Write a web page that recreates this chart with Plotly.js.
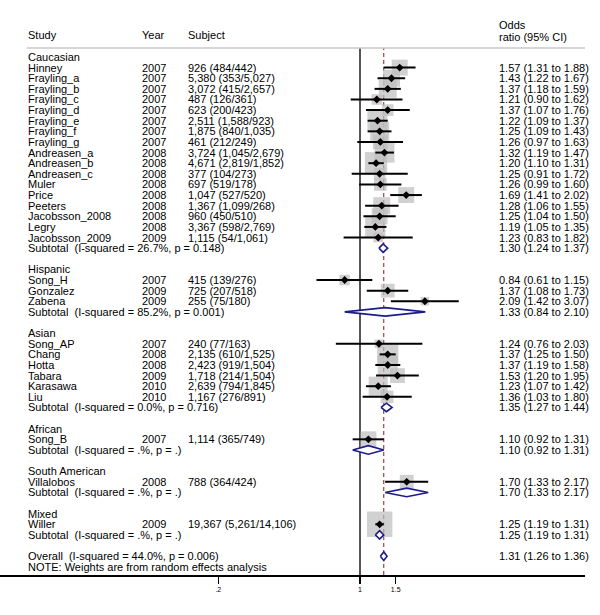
<!DOCTYPE html>
<html>
<head>
<meta charset="utf-8">
<script src="https://cdn.plot.ly/plotly-3.0.1.min.js"></script>
<style>body{margin:0;padding:0;background:#fff;} #chart{width:600px;height:615px;}</style>
</head>
<body>
<div id="chart"></div>
<script>
// ---------- DATA ----------
const studyNames = ["Hinney","Frayling_a","Frayling_b","Frayling_c","Frayling_d","Frayling_e","Frayling_f","Frayling_g","Andreasen_a","Andreasen_b","Andreasen_c","Muler","Price","Peeters","Jacobsson_2008","Legry","Jacobsson_2009",
  "Song_H","Gonzalez","Zabena",
  "Song_AP","Chang","Hotta","Tabara","Karasawa","Liu",
  "Song_B","Villalobos","Willer"];
const studyYears = ["2007","2007","2007","2007","2007","2007","2007","2007","2008","2008","2008","2008","2008","2008","2008","2008","2009",
  "2007","2009","2009",
  "2007","2008","2008","2009","2010","2010",
  "2007","2008","2009"];
const studySubjects = ["926 (484/442)","5,380 (353/5,027)","3,072 (415/2,657)","487 (126/361)","623 (200/423)","2,511 (1,588/923)","1,875 (840/1,035)","461 (212/249)","3,724 (1,045/2,679)","4,671 (2,819/1,852)","377 (104/273)","697 (519/178)","1,047 (527/520)","1,367 (1,099/268)","960 (450/510)","3,367 (598/2,769)","1,115 (54/1,061)",
  "415 (139/276)","725 (207/518)","255 (75/180)",
  "240 (77/163)","2,135 (610/1,525)","2,423 (919/1,504)","1,718 (214/1,504)","2,639 (794/1,845)","1,167 (276/891)",
  "1,114 (365/749)","788 (364/424)","19,367 (5,261/14,106)"];
const studyOR = [1.57,1.43,1.37,1.21,1.37,1.22,1.25,1.26,1.32,1.20,1.25,1.26,1.69,1.28,1.25,1.19,1.23,
  0.84,1.37,2.09,
  1.24,1.37,1.37,1.53,1.23,1.36,
  1.10,1.70,1.25];
const studyLo = [1.31,1.22,1.18,0.90,1.07,1.09,1.09,0.97,1.19,1.10,0.91,0.99,1.41,1.06,1.04,1.05,0.83,
  0.61,1.08,1.42,
  0.76,1.25,1.19,1.20,1.07,1.03,
  0.92,1.33,1.19];
const studyHi = [1.88,1.67,1.59,1.62,1.76,1.37,1.43,1.63,1.47,1.31,1.72,1.60,2.02,1.55,1.50,1.35,1.82,
  1.15,1.73,3.07,
  2.03,1.50,1.58,1.95,1.42,1.80,
  1.31,2.17,1.31];
// estimated random-effects weights (%)
const studyWeights = [3.27,3.72,4.20,1.45,1.76,5.25,4.71,2.85,5.25,6.41,1.76,2.09,3.27,3.72,3.27,5.25,1.18,
  1.45,2.46,0.93,
  0.93,5.81,5.25,2.85,4.71,2.09,
  3.27,2.46,8.37];

const groupNames = ["Caucasian","Hispanic","Asian","African","South American","Mixed"];
const groupCounts = [17,3,6,1,1,1];
const subtotalLabels = ["Subtotal  (I-squared = 26.7%, p = 0.148)","Subtotal  (I-squared = 85.2%, p = 0.001)","Subtotal  (I-squared = 0.0%, p = 0.716)","Subtotal  (I-squared = .%, p = .)","Subtotal  (I-squared = .%, p = .)","Subtotal  (I-squared = .%, p = .)"];
const subtotalOR = [1.30,1.33,1.35,1.10,1.70,1.25];
const subtotalLo = [1.24,0.84,1.27,0.92,1.33,1.19];
const subtotalHi = [1.37,2.10,1.44,1.31,2.17,1.31];

const overallLabel = "Overall  (I-squared = 44.0%, p = 0.006)";
const overallOR = 1.31, overallLo = 1.26, overallHi = 1.36;
const noteText = "NOTE: Weights are from random effects analysis";

const tickVals = [0.2,1,1.5];
const tickText = [".2","1","1.5"];

// ---------- LAYOUT HELPERS ----------
const W = 600, H = 615;
const mL = 0, mR = 15, mT = 48, mB = 40;
const plotW = W - mL - mR;
const px = p => (p - mL) / plotW;         // pixel -> paper x
const colStudy = 27, colYear = 141, colSubj = 187, colOR = 498;
const FONT = {family: "Liberation Sans, Arial, sans-serif", size: 11, color: "#000"};
const fmt = (e,l,h) => e.toFixed(2) + " (" + l.toFixed(2) + " to " + h.toFixed(2) + ")";

const ann = [];
function txt(xpx, row, s, font) {
  ann.push({xref: "paper", x: px(xpx), yref: "y", y: row, text: s, showarrow: false,
            xanchor: "left", yanchor: "middle", font: font || FONT, borderpad: 0});
}

// build rows
let row = 0, si = 0;
const boxX = [], boxY = [], boxS = [];
const ciX = [], ciY = [];
const dotX = [], dotY = [];
const diamonds = [];
const dH = 0.4;
for (let g = 0; g < groupNames.length; g++) {
  txt(colStudy, row, groupNames[g]); row++;
  for (let k = 0; k < groupCounts[g]; k++, si++) {
    txt(colStudy, row, studyNames[si]);
    txt(colYear, row, studyYears[si]);
    txt(colSubj, row, studySubjects[si]);
    txt(colOR, row, fmt(studyOR[si], studyLo[si], studyHi[si]));
    boxX.push(studyOR[si]); boxY.push(row); boxS.push(8.8 * Math.sqrt(studyWeights[si]));
    ciX.push(studyLo[si], studyHi[si], null); ciY.push(row, row, null);
    dotX.push(studyOR[si]); dotY.push(row);
    row++;
  }
  txt(colStudy, row, subtotalLabels[g]);
  txt(colOR, row, fmt(subtotalOR[g], subtotalLo[g], subtotalHi[g]));
  diamonds.push([subtotalLo[g], subtotalOR[g], subtotalHi[g], row]);
  row++;
  txt(colStudy + 1, row - 0.1, ".", {family: FONT.family, size: 6, color: "#c8c8c8"});
  row++; // blank
}
txt(colStudy, row, overallLabel);
txt(colOR, row, fmt(overallOR, overallLo, overallHi));
diamonds.push([overallLo, overallOR, overallHi, row]);
row++;
txt(colStudy, row, noteText);

// headers
const hy = y => 1 + (mT - y) / (H - mT - mB);
function head(xp, yp, s) {
  ann.push({xref:"paper", x:px(xp), yref:"paper", y:hy(yp), text:s, showarrow:false, xanchor:"left", yanchor:"middle", font:FONT, borderpad:0});
}
head(colStudy, 35, "Study");
head(colYear, 35, "Year");
head(colSubj, 35, "Subject");
head(colOR, 25, "Odds");
head(colOR, 37, "ratio (95% CI)");

// ---------- TRACES ----------
const traces = [];
traces.push({type:"scatter", mode:"markers", x:boxX, y:boxY,
  marker:{symbol:"square", size:boxS, color:"#bdbdbd", line:{width:0}}, hoverinfo:"skip"});
traces.push({type:"scatter", mode:"lines", x:ciX, y:ciY, connectgaps:false,
  line:{color:"#000", width:2}, hoverinfo:"skip"});
traces.push({type:"scatter", mode:"markers", x:dotX, y:dotY,
  marker:{symbol:"diamond", size:6, color:"#000"}, hoverinfo:"skip"});
diamonds.forEach(d => {
  traces.push({type:"scatter", mode:"lines", fill:"toself", fillcolor:"#fff",
    x:[d[0], d[1], d[2], d[1], d[0]], y:[d[3], d[3]-dH, d[3], d[3]+dH, d[3]],
    line:{color:"#1c1c8a", width:1.6}, hoverinfo:"skip"});
});

// y range: row 0 at pixel 57, 10.62 px per row
const rowPx = 10.62;
const yTop = -(57 - mT) / rowPx;
const yBot = yTop + (H - mT - mB) / rowPx;
// x range: 1 at pixel 360, 202.7 px per decade
const dec = 202.7;
const xL = -(360 - mL) / dec, xR = (mL + plotW - 360) / dec;

const layout = {
  width: W, height: H,
  margin: {l: mL, r: mR, t: mT, b: mB, pad: 0},
  paper_bgcolor: "#fff", plot_bgcolor: "#fff",
  showlegend: false, hovermode: false,
  xaxis: {type: "log", range: [xL, xR], tickvals: tickVals, ticktext: tickText,
    ticks: "outside", ticklen: 7, tickwidth: 1.5, tickcolor: "#000",
    showline: true, linecolor: "#000", linewidth: 1.5, showgrid: false, zeroline: false,
    tickfont: {family: "Liberation Sans, Arial, sans-serif", size: 7, color: "#000"}},
  yaxis: {range: [yBot, yTop], visible: false, showgrid: false, zeroline: false},
  annotations: ann,
  shapes: [
    {type:"line", layer:"below", xref:"x", x0:1, x1:1, yref:"paper", y0:0, y1:1, line:{color:"#555", width:2}},
    {type:"line", layer:"below", xref:"x", x0:overallOR, x1:overallOR, yref:"paper", y0:0, y1:1, line:{color:"#8b1a1a", width:1, dash:"4px,3px"}},
    {type:"line", xref:"paper", x0:px(colStudy), x1:1, yref:"paper", y0:1, y1:1, line:{color:"#c8c8c8", width:1.5}}
  ]
};

Plotly.newPlot("chart", traces, layout, {displayModeBar: false, staticPlot: true});
</script>
</body>
</html>
